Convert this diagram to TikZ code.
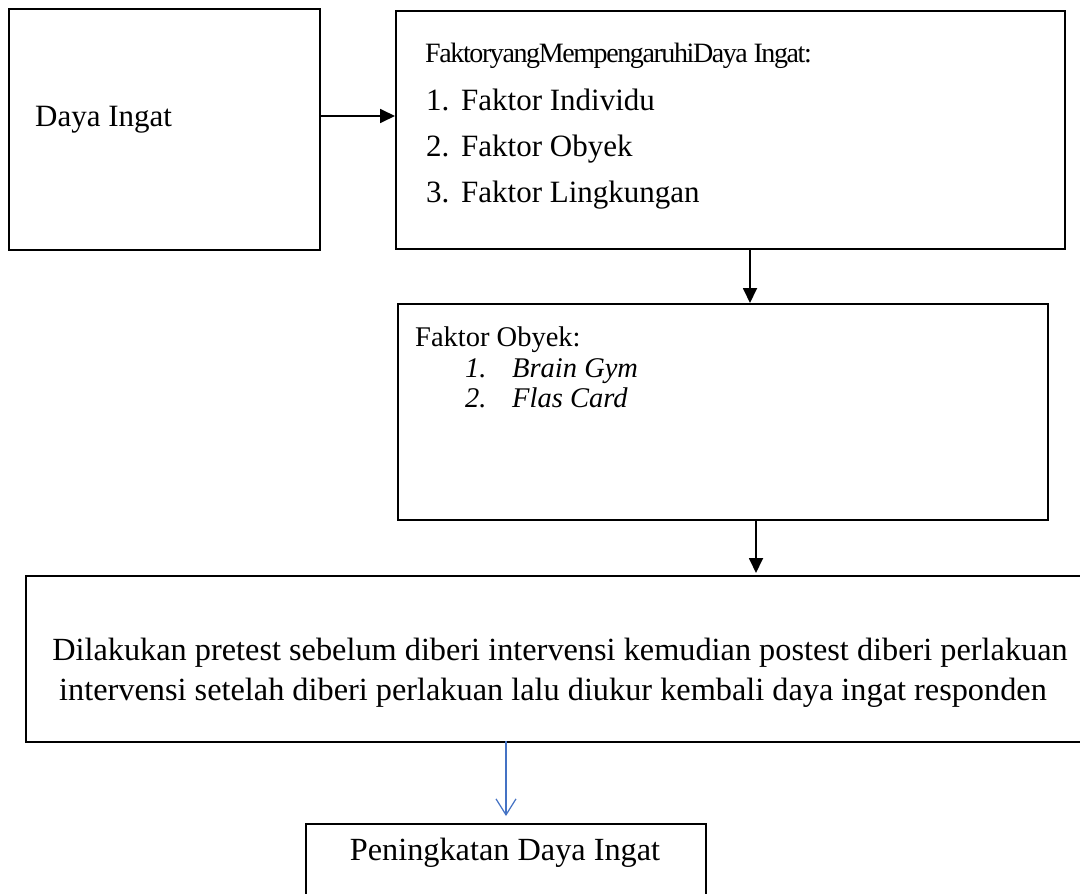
\documentclass[tikz,border=0pt]{standalone}
\usepackage{fontspec}
\setmainfont{Liberation Serif}
\newfontfamily\condensedfont[LetterSpace=-5]{Liberation Serif}
\usetikzlibrary{arrows.meta}
\begin{document}
\begin{tikzpicture}[x=1pt,y=-1pt,
  box/.style={draw=black,line width=1.8pt,anchor=north west,inner sep=0pt,rectangle},
  txt/.style={anchor=base west,inner sep=0pt,font=\fontsize{31}{37}\selectfont},
  stxt/.style={anchor=base west,inner sep=0pt,font=\fontsize{28.5}{34}\selectfont},
  ctxt/.style={anchor=base,inner sep=0pt,font=\fontsize{32.3}{38}\selectfont},
  blk/.style={line width=1.8pt,-{Triangle[length=15pt,width=14pt]}},
  blu/.style={draw={rgb,255:red,68;green,114;blue,196},line width=1.2pt,-{Straight Barb[length=16pt,width=20pt,line width=1.2pt]}}]
\useasboundingbox (0,0) rectangle (1080,894);
\clip (0,0) rectangle (1080,894);
\fill[white] (0,0) rectangle (1080,894);
% boxes
\node[box,minimum width=311pt,minimum height=241pt] (b1) at (8,8) {};
\node[box,minimum width=669pt,minimum height=238pt] (b2) at (395,10) {};
\node[box,minimum width=650pt,minimum height=216pt] (b3) at (397,303) {};
\node[box,minimum width=1070pt,minimum height=166pt] (b4) at (25,575) {};
\node[box,minimum width=400pt,minimum height=90pt] (b5) at (305,823) {};
% texts
\node[txt] (t1) at (35,126) {Daya Ingat};
\node[txt,font=\fontsize{28}{34}\condensedfont] (t2) at (425,62) {FaktoryangMempengaruhiDaya Ingat:};
\node[txt] (n21) at (426,110) {1.};
\node[txt] (t21) at (461,110) {Faktor Individu};
\node[txt] (n22) at (426,156) {2.};
\node[txt] (t22) at (461,156) {Faktor Obyek};
\node[txt] (n23) at (426,202) {3.};
\node[txt] (t23) at (461,202) {Faktor Lingkungan};
\node[stxt] (t3) at (415,346) {Faktor Obyek:};
\node[stxt] (n31) at (465,377) {\itshape 1.};
\node[stxt] (t31) at (512,377) {\itshape Brain Gym};
\node[stxt] (n32) at (465,407) {\itshape 2.};
\node[stxt] (t32) at (512,407) {\itshape Flas Card};
\node[ctxt] (t41) at (560,660) {Dilakukan pretest sebelum diberi intervensi kemudian postest diberi perlakuan};
\node[ctxt] (t42) at (553,700) {intervensi setelah diberi perlakuan lalu diukur kembali daya ingat responden};
\node[ctxt] (t5) at (505,860) {Peningkatan Daya Ingat};
% connectors
\coordinate (a1) at (319,116);
\draw[blk] (a1) -- (a1 -| b2.west);
\coordinate (a2) at (750,248);
\draw[blk] (a2) -- (a2 |- b3.north);
\coordinate (a3) at (756,519);
\draw[blk] (a3) -- (756,573);
\coordinate (a4) at (506,741);
\coordinate (a4e) at (506,816);
\draw[blu] (a4) -- (a4e);
\end{tikzpicture}
\end{document}
